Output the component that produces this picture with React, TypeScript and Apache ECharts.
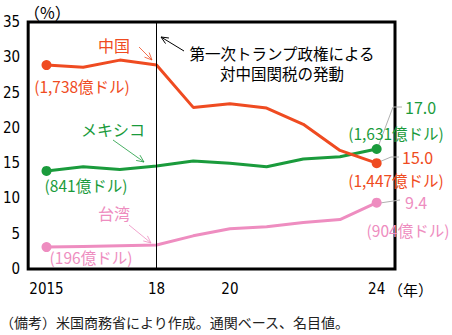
import React, { useEffect, useRef } from "react";
import * as echarts from "echarts";

const years = ["2015", "2016", "2017", "2018", "2019", "2020", "2021", "2022", "2023", "2024"];
const tickLabels: Record<string, string> = { "2015": "2015", "2018": "18", "2020": "20", "2024": "24" };
const china = [28.9, 28.6, 29.6, 28.9, 22.9, 23.4, 22.8, 20.5, 16.8, 15.0];
const mexico = [13.9, 14.5, 14.1, 14.6, 15.3, 15.0, 14.5, 15.6, 15.9, 17.0];
const taiwan = [3.1, 3.2, 3.3, 3.4, 4.7, 5.7, 6.0, 6.6, 7.0, 9.4];
const yTicks = [0, 5, 10, 15, 20, 25, 30, 35];

const RED = "#EF4B21";
const GREEN = "#1A9B3C";
const PINK = "#EE8DC0";
const CJK = "'Noto Sans CJK JP', sans-serif";
const NUM = "'Liberation Sans Narrow', 'DejaVu Sans Condensed', 'Roboto', sans-serif";

function arrow(x1: number, y1: number, x2: number, y2: number, color: string, w = 1) {
  const ang = Math.atan2(y2 - y1, x2 - x1);
  const L = 8, a = 0.42;
  return {
    type: "group",
    children: [
      { type: "line", shape: { x1, y1, x2, y2 }, style: { stroke: color, lineWidth: w } },
      {
        type: "polyline",
        shape: {
          points: [
            [x2 - L * Math.cos(ang - a), y2 - L * Math.sin(ang - a)],
            [x2, y2],
            [x2 - L * Math.cos(ang + a), y2 - L * Math.sin(ang + a)],
          ],
        },
        style: { stroke: color, lineWidth: w, fill: null },
      },
    ],
  };
}

function txt(x: number, y: number, text: string, fill: string, fontSize = 15, align = "left", family = CJK, lineHeight?: number) {
  return {
    type: "text",
    x,
    y,
    style: { text, fill, fontSize, fontFamily: family, textAlign: align, textVerticalAlign: "middle", lineHeight },
  };
}

function leader(points: number[][]) {
  return { type: "polyline", shape: { points }, style: { stroke: "#b0b0b0", lineWidth: 1, fill: null } };
}

export default function App() {
  const ref = useRef<HTMLDivElement>(null);
  useEffect(() => {
    if (!ref.current) return;
    const chart = echarts.init(ref.current, null, { renderer: "svg" });
    const endSize = (_v: any, p: any) => (p.dataIndex === 0 || p.dataIndex === years.length - 1 ? 10 : 0);
    chart.setOption({
      animation: false,
      grid: { left: 28, top: 22, right: 57, bottom: 66, show: true, borderColor: "#000", borderWidth: 3, backgroundColor: "transparent" },
      xAxis: {
        type: "category",
        data: years,
        boundaryGap: true,
        axisLine: { show: false },
        axisTick: { show: false },
        axisLabel: {
          interval: (_i: number, v: string) => v in tickLabels,
          formatter: (v: string) => tickLabels[v] ?? "",
          fontSize: 15,
          fontFamily: NUM,
          color: "#000",
          margin: 12,
        },
      },
      yAxis: {
        type: "value",
        min: yTicks[0],
        max: yTicks[yTicks.length - 1],
        interval: 5,
        axisLine: { show: false },
        axisTick: { show: false },
        splitLine: { show: false },
        axisLabel: { fontSize: 15, fontFamily: NUM, color: "#000", margin: 8 },
      },
      series: [
        {
          type: "line",
          data: china,
          symbol: "circle",
          symbolSize: endSize,
          lineStyle: { color: RED, width: 3 },
          itemStyle: { color: RED },
          z: 3,
          markLine: {
            silent: true,
            symbol: "none",
            label: { show: false },
            lineStyle: { color: "#000", width: 1, type: "solid" },
            data: [{ xAxis: "2018" }],
          },
        },
        {
          type: "line",
          data: mexico,
          symbol: "circle",
          symbolSize: endSize,
          lineStyle: { color: GREEN, width: 3 },
          itemStyle: { color: GREEN },
          z: 2,
        },
        {
          type: "line",
          data: taiwan,
          symbol: "circle",
          symbolSize: endSize,
          lineStyle: { color: PINK, width: 3 },
          itemStyle: { color: PINK },
          z: 2,
        },
      ],
      graphic: [
        txt(24, 12, "（%）", "#000", 16, "left"),
        txt(388, 289, "（年）", "#000", 15, "left"),
        txt(0, 322, "（備考）米国商務省により作成。通関ベース、名目値。", "#222", 14, "left"),
        txt(114, 45, "中国", RED, 16, "center"),
        arrow(139, 47, 152, 60, RED, 0.8),
        txt(82, 86, "(1,738億ドル)", RED, 15.5, "center"),
        txt(113, 129, "メキシコ", GREEN, 16, "center"),
        arrow(113, 140, 144, 162, GREEN, 0.8),
        txt(86, 185, "(841億ドル)", GREEN, 15.5, "center"),
        txt(114, 213, "台湾", PINK, 16, "center"),
        arrow(129, 225, 151, 243, PINK, 0.8),
        txt(91, 257, "(196億ドル)", PINK, 15.5, "center"),
        txt(282, 63, "第一次トランプ政権による\n対中国関税の発動", "#000", 15.5, "center", CJK, 20),
        arrow(184, 51, 161, 37, "#000", 1),
        leader([[378, 147], [393, 107], [402, 107]]),
        txt(405, 107, "17.0", GREEN, 16, "left"),
        txt(396, 133, "(1,631億ドル)", GREEN, 15.5, "center"),
        leader([[379, 162], [391, 157], [399, 157]]),
        txt(402, 157, "15.0", RED, 16, "left"),
        txt(396, 180, "(1,447億ドル)", RED, 15.5, "center"),
        leader([[380, 203], [400, 200]]),
        txt(405, 202, "9.4", PINK, 16, "left"),
        txt(408, 230, "(904億ドル)", PINK, 15.5, "center"),
      ],
    });
    return () => chart.dispose();
  }, []);
  return <div ref={ref} style={{ position: "absolute", left: 0, top: 0, width: 452, height: 335 }} />;
}
